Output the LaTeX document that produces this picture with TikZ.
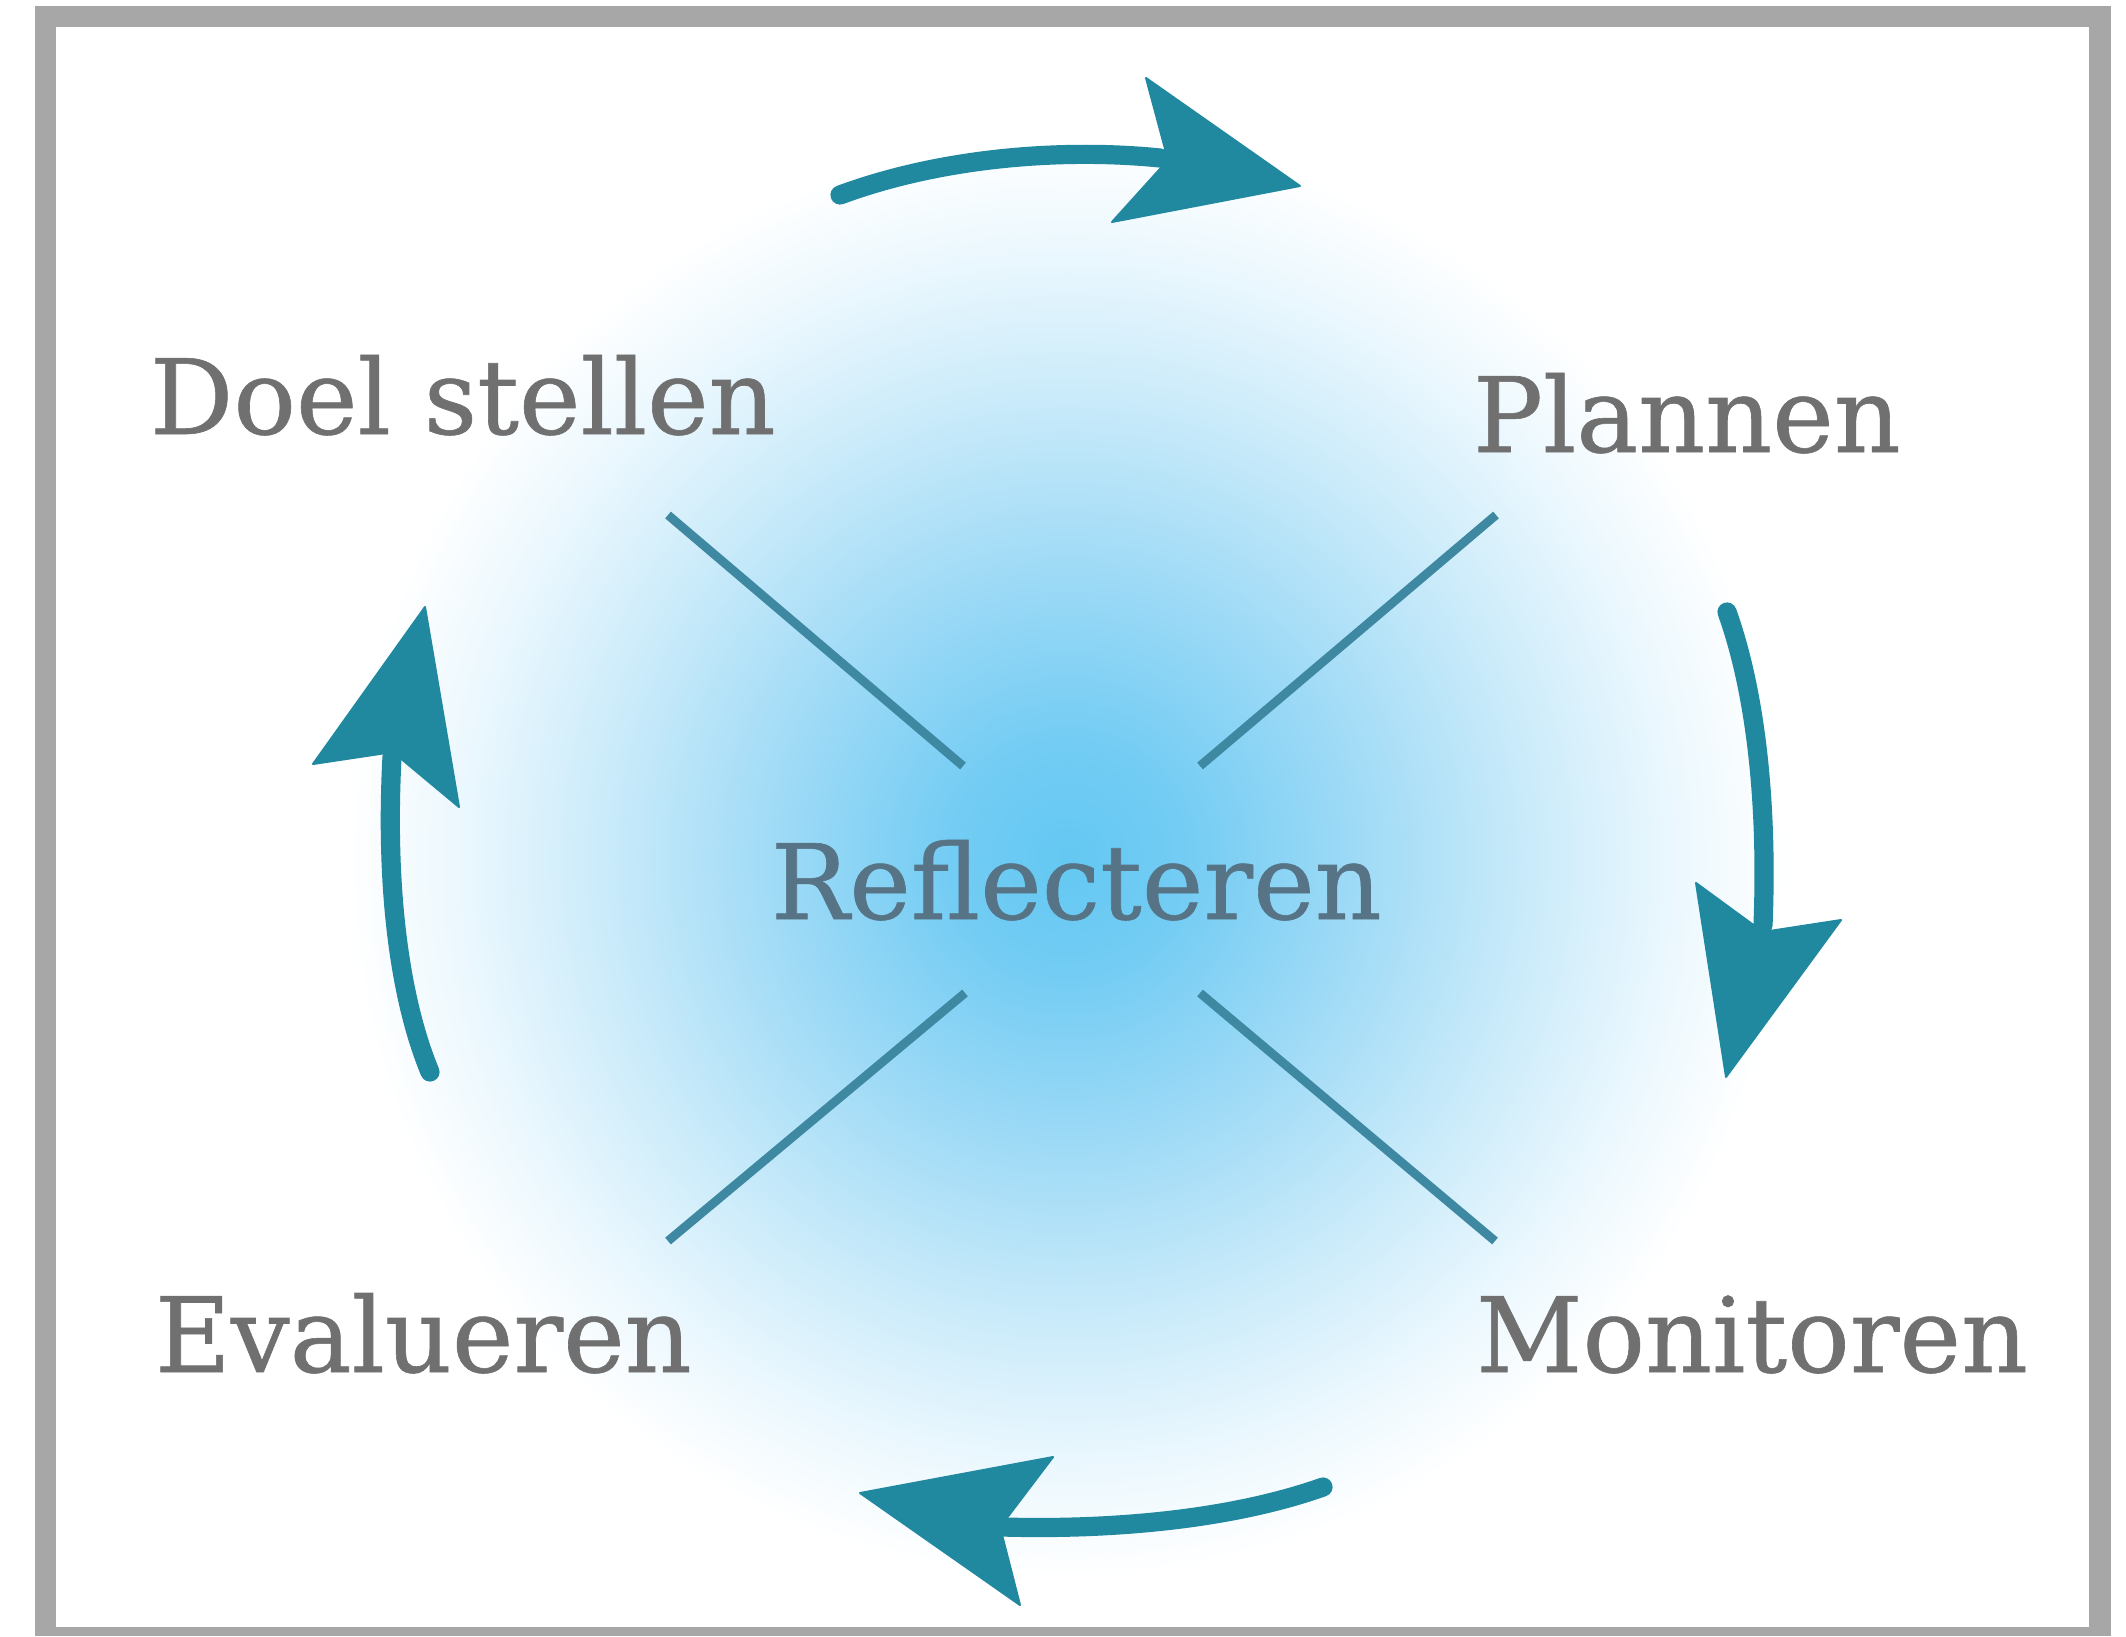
\documentclass[tikz,border=0pt]{standalone}
\usepackage{fontspec}
\setmainfont{DejaVu Serif}
\definecolor{framegray}{RGB}{167,167,167}
\definecolor{arrowteal}{RGB}{32,137,160}
\definecolor{spokeblue}{RGB}{62,136,162}
\definecolor{labelgray}{RGB}{112,112,112}
\definecolor{centertext}{RGB}{86,116,134}
\pgfdeclareradialshading{glow}{\pgfpoint{0bp}{0bp}}{rgb(0bp)=(0.39,0.785,0.95); rgb(4bp)=(0.45,0.80,0.955); rgb(10bp)=(0.62,0.855,0.965); rgb(16bp)=(0.79,0.92,0.98); rgb(21bp)=(0.92,0.97,0.995); rgb(25bp)=(1,1,1); rgb(50bp)=(1,1,1)}
\tikzset{
  lab/.style={font=\fontsize{26}{30}\selectfont\addfontfeature{FakeBold=0.6}, text=labelgray, inner sep=0pt, outer sep=0pt, anchor=base west},
  centerlab/.style={lab, text=centertext},
  spokeline/.style={draw=spokeblue, line width=2.2pt},
  shaft/.style={draw=arrowteal, line width=4.8pt, line cap=round},
  arrowhead/.style={fill=arrowteal, draw=arrowteal, line width=0.5pt, line join=round}
}
\begin{document}
\begin{tikzpicture}[x=0.25pt,y=-0.25pt]
\useasboundingbox (0,0) rectangle (2126,1636);
\fill[framegray] (35,6) rectangle (2111,1636);
\fill[white] (56,27) rectangle (2089,1627);
\begin{scope}
  \clip (56,27) rectangle (2089,1627);
  \shade[shading=glow] (1067,858) circle[radius=720];
\end{scope}

% labels
\node[lab] (doel) at (150,434) {Doel stellen};
\node[lab] (plan) at (1473,452) {Plannen};
\node[centerlab] (refl) at (771,919) {Reflecteren};
\node[lab] (eval) at (155,1372) {Evalueren};
\node[lab] (moni) at (1476,1372) {Monitoren};

% spokes
\coordinate (tl1) at (668,515); \coordinate (tl2) at (963,766);
\coordinate (tr1) at (1496,515); \coordinate (tr2) at (1200,766);
\coordinate (bl1) at (965,993); \coordinate (bl2) at (668,1241);
\coordinate (br1) at (1200,993); \coordinate (br2) at (1495,1241);
\draw[spokeline] (tl1) -- (tl2);
\draw[spokeline] (tr1) -- (tr2);
\draw[spokeline] (bl1) -- (bl2);
\draw[spokeline] (br1) -- (br2);

% top arrow
\draw[shaft] (840,195) .. controls (940,158) and (1060,148) .. (1160,158);
\fill[arrowhead] (1300,186) -- (1146,78) -- (1168,160) -- (1112,222) -- cycle;

% right arrow
\draw[shaft] (1727,612) .. controls (1755,690) and (1768,800) .. (1763,925);
\fill[arrowhead] (1726,1077) -- (1696,883) -- (1763,932) -- (1841,920) -- cycle;

% bottom arrow
\draw[shaft] (1323,1487) .. controls (1230,1520) and (1110,1530) .. (1003,1527);
\fill[arrowhead] (860,1493) -- (1053,1457) -- (1000,1527) -- (1020,1605) -- cycle;

% left arrow
\draw[shaft] (430,1072) .. controls (400,1000) and (385,890) .. (392,757);
\fill[arrowhead] (425,607) -- (313,764) -- (393,752) -- (459,807) -- cycle;
\end{tikzpicture}
\end{document}
